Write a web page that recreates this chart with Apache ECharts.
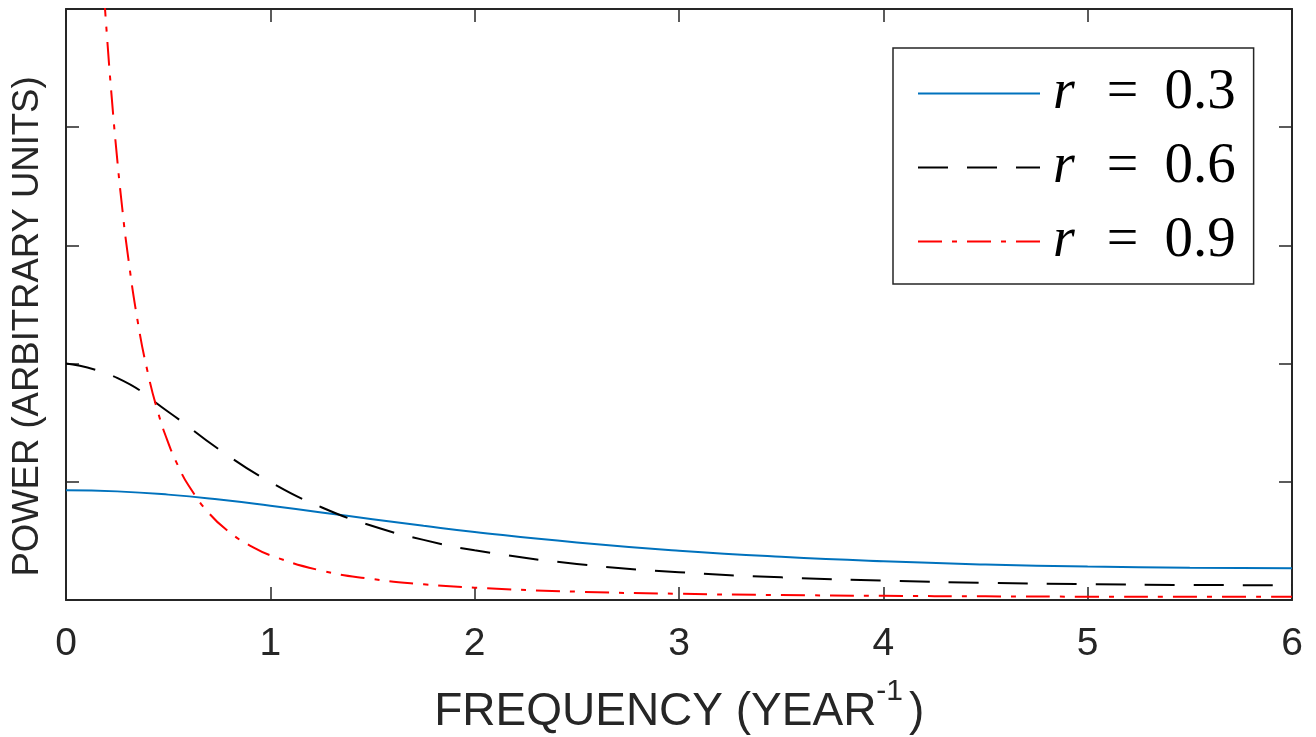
<!DOCTYPE html>
<html>
<head>
<meta charset="utf-8">
<script src="https://cdn.jsdelivr.net/npm/echarts@6/dist/echarts.min.js"></script>
<style>html,body{margin:0;padding:0;background:#fff;}#c{width:1316px;height:737px;}</style>
</head>
<body>
<div id="c"></div>
<script>
// Frequencies (year^-1) and power values
var freqMain = [0, 0.25, 0.5, 0.75, 1, 1.25, 1.5, 1.75, 2, 2.5, 3, 3.5, 4, 4.5, 5, 5.5, 6];
var powerR03 = [1.857, 1.838, 1.783, 1.699, 1.595, 1.482, 1.367, 1.256, 1.152, 0.974, 0.835, 0.731, 0.655, 0.601, 0.565, 0.545, 0.538];
var powerR06 = [4.0, 3.759, 3.186, 2.546, 1.995, 1.569, 1.251, 1.017, 0.842, 0.610, 0.471, 0.383, 0.327, 0.290, 0.267, 0.254, 0.25];
var freqRed = [0.1, 0.125, 0.15, 0.175, 0.2, 0.225, 0.25, 0.275, 0.3, 0.35, 0.4, 0.45, 0.5, 0.55, 0.6, 0.7, 0.8, 0.9, 1.0, 1.25, 1.5, 1.75, 2, 2.5, 3, 3.5, 4, 4.5, 5, 5.5, 6];
var powerR09 = [15.24, 13.71, 12.22, 10.83, 9.567, 8.453, 7.481, 6.637, 5.908, 4.733, 3.851, 3.181, 2.664, 2.259, 1.937, 1.467, 1.147, 0.922, 0.757, 0.497, 0.354, 0.266, 0.209, 0.141, 0.105, 0.084, 0.070, 0.062, 0.056, 0.054, 0.053];
var seriesNames = ['r = 0.3', 'r = 0.6', 'r = 0.9'];
var xTicks = ['0', '1', '2', '3', '4', '5', '6'];

function pairs(xs, ys) { return xs.map(function (x, i) { return [x, ys[i]]; }); }

var axisColor = '#262626';
var chart = echarts.init(document.getElementById('c'), null, { renderer: 'canvas' });
var tickStyle = { show: true, inside: true, length: 13, lineStyle: { color: axisColor, width: 1.5 } };
var lineStyleAxis = { show: true, onZero: false, lineStyle: { color: axisColor, width: 2 } };

chart.setOption({
  animation: false,
  backgroundColor: '#ffffff',
  grid: { left: 66, right: 24, top: 9, bottom: 137, containLabel: false, outerBoundsMode: 'none' },
  xAxis: [{
    type: 'value', min: 0, max: 6, interval: 1, position: 'bottom',
    axisLine: lineStyleAxis, axisTick: tickStyle, splitLine: { show: false },
    axisLabel: { fontFamily: 'Liberation Sans', fontSize: 39, color: axisColor, margin: 25,
      formatter: function (v) { return xTicks[Math.round(v)]; } },
    name: '{t| }{m|FREQUENCY (YEAR}{s|-1}{p|)}',
    nameLocation: 'middle', nameGap: 77,
    nameTextStyle: { rich: {
      t: { fontSize: 2, lineHeight: 58, verticalAlign: 'top' },
      m: { fontFamily: 'Liberation Sans', fontSize: 46, color: axisColor, lineHeight: 48, verticalAlign: 'bottom' },
      p: { fontFamily: 'Liberation Sans', fontSize: 46, color: axisColor, lineHeight: 48, verticalAlign: 'bottom', padding: [0, 0, 0, 6] },
      s: { fontFamily: 'Liberation Sans', fontSize: 30, color: axisColor, lineHeight: 30, verticalAlign: 'top' }
    } }
  }, {
    type: 'value', min: 0, max: 6, interval: 1, position: 'top',
    axisLine: lineStyleAxis, axisTick: tickStyle, axisLabel: { show: false }, splitLine: { show: false }
  }],
  yAxis: [{
    type: 'value', min: 0, max: 10, interval: 2, position: 'left',
    axisLine: lineStyleAxis, axisTick: tickStyle, axisLabel: { show: false }, splitLine: { show: false },
    name: 'POWER (ARBITRARY UNITS)', nameLocation: 'middle', nameGap: 20, nameRotate: 90,
    nameTextStyle: { fontFamily: 'Liberation Sans', fontSize: 36.5, color: axisColor, padding: [0, 44, 0, 0] }
  }, {
    type: 'value', min: 0, max: 10, interval: 2, position: 'right',
    axisLine: lineStyleAxis, axisTick: tickStyle, axisLabel: { show: false }, splitLine: { show: false }
  }],
  legend: {
    orient: 'vertical', left: 893, top: 48,
    padding: [17, 18, 14, 24],
    itemWidth: 122, itemHeight: 20, itemGap: 17,
    backgroundColor: '#ffffff', borderColor: axisColor, borderWidth: 1.5, borderRadius: 0,
    itemStyle: { opacity: 0, borderWidth: 0 },
    data: seriesNames,
    formatter: function (name) { return '{i|r}{e|=}{n|' + name.split('= ')[1] + '}'; },
    textStyle: { rich: {
      i: { fontFamily: 'Liberation Serif', fontStyle: 'italic', fontSize: 56, color: '#000', lineHeight: 54, padding: [0, 0, 0, 8] },
      e: { fontFamily: 'Liberation Serif', fontSize: 56, color: '#000', lineHeight: 54, padding: [0, 26, 0, 32] },
      n: { fontFamily: 'Liberation Serif', fontSize: 57, color: '#000', lineHeight: 54 }
    } }
  },
  series: [{
    name: seriesNames[0], type: 'line', data: pairs(freqMain, powerR03),
    xAxisIndex: 0, yAxisIndex: 0, showSymbol: false, symbol: 'none', smooth: true,
    lineStyle: { color: '#0072BD', width: 2 }, itemStyle: { color: '#0072BD' }
  }, {
    name: seriesNames[1], type: 'line', data: pairs(freqMain, powerR06),
    xAxisIndex: 0, yAxisIndex: 0, showSymbol: false, symbol: 'none', smooth: true,
    lineStyle: { color: '#000000', width: 2, type: [30, 19] }, itemStyle: { color: '#000000' }
  }, {
    name: seriesNames[2], type: 'line', data: pairs(freqRed, powerR09),
    xAxisIndex: 0, yAxisIndex: 0, showSymbol: false, symbol: 'none', smooth: true,
    lineStyle: { color: '#FF0000', width: 2, type: [24, 10, 5, 10] }, itemStyle: { color: '#FF0000' }
  }]
});
</script>
</body>
</html>
